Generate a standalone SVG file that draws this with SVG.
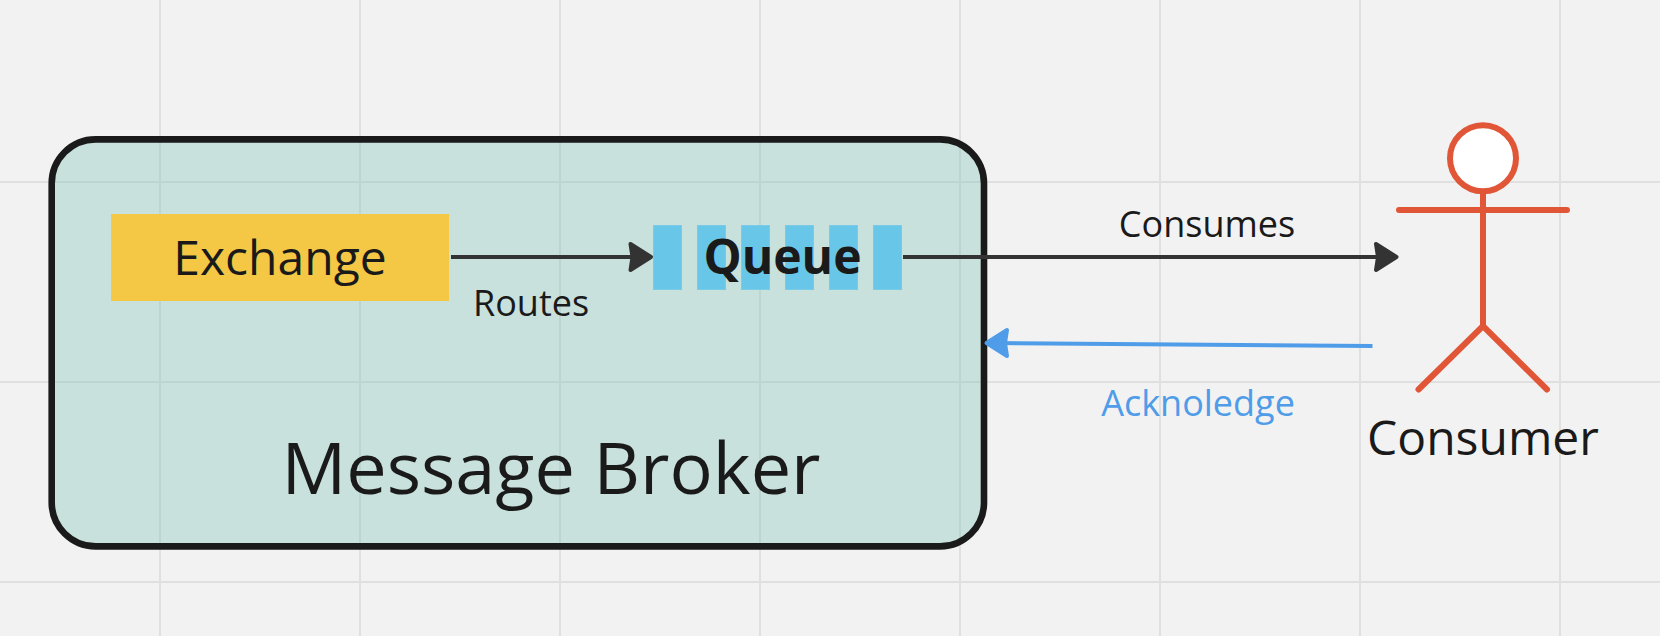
<svg xmlns="http://www.w3.org/2000/svg" width="1660" height="636" viewBox="0 0 1660 636">
<style>
.t{font-family:"Open Sans","Noto Sans","Liberation Sans",sans-serif;fill:#1a1a1a;text-anchor:middle}
.grid line{stroke:#e0e0e0;stroke-width:2}
.q rect{fill:#68c6e9;stroke:#7ccbe6;stroke-width:1}
.actor *{stroke:#e05637;stroke-width:6;stroke-linecap:round;fill:none}
.c line{stroke-width:4;fill:none}
</style>
<defs>
<path id="ah" d="M-23 -13L-2.5 0L-23 13L-21 0Z" stroke-width="4" stroke-linejoin="round"/>
</defs>
<rect width="1660" height="636" fill="#f2f2f2"/>
<g class="grid">
<line x1="160" y1="0" x2="160" y2="636"/><line x1="360" y1="0" x2="360" y2="636"/><line x1="560" y1="0" x2="560" y2="636"/><line x1="760" y1="0" x2="760" y2="636"/><line x1="960" y1="0" x2="960" y2="636"/><line x1="1160" y1="0" x2="1160" y2="636"/><line x1="1360" y1="0" x2="1360" y2="636"/><line x1="1560" y1="0" x2="1560" y2="636"/>
<line x1="0" y1="182" x2="1660" y2="182"/><line x1="0" y1="382" x2="1660" y2="382"/><line x1="0" y1="582" x2="1660" y2="582"/>
</g>
<g id="message-broker">
<rect x="51.7" y="139.4" width="932.3" height="407" rx="44" ry="44" fill="#76beb0" fill-opacity=".33" stroke="#1a1a1a" stroke-width="6.6"/>
<text class="t" x="551" y="493.5" font-size="72">Message Broker</text>
</g>
<g id="exchange">
<rect x="111" y="214" width="338" height="87" fill="#f4c745"/>
<text class="t" x="280" y="274.5" font-size="48">Exchange</text>
</g>
<g id="queue">
<g class="q">
<rect x="653.5" y="225.5" width="28" height="64"/><rect x="697.5" y="225.5" width="28" height="64"/><rect x="741.5" y="225.5" width="28" height="64"/><rect x="785.5" y="225.5" width="28" height="64"/><rect x="829.5" y="225.5" width="28" height="64"/><rect x="873.5" y="225.5" width="28" height="64"/>
</g>
<text class="t" x="782.5" y="274" font-size="48" font-weight="700">Queue</text>
</g>
<g id="consumer">
<g class="actor">
<ellipse cx="1483" cy="158.3" rx="33" ry="33" style="fill:#fff"/>
<path d="M1399 210H1567M1483 194V326M1418.5 389.5L1483 326L1547 389.5"/>
</g>
<text class="t" x="1483" y="455" font-size="48">Consumer</text>
</g>
<g id="connectors" class="c">
<line x1="451" y1="257" x2="640" y2="257" stroke="#333"/>
<use href="#ah" x="653.5" y="257" fill="#333" stroke="#333"/>
<text class="t" x="531" y="315.5" font-size="36">Routes</text>
<line x1="903" y1="257" x2="1385" y2="257" stroke="#333"/>
<use href="#ah" x="1399" y="257" fill="#333" stroke="#333"/>
<text class="t" x="1207" y="236.5" font-size="36">Consumes</text>
<line x1="1372.5" y1="346" x2="995" y2="343.1" stroke="#4f9ce9"/>
<use href="#ah" transform="translate(984 343) rotate(180)" fill="#4f9ce9" stroke="#4f9ce9"/>
<text class="t" x="1198" y="416" font-size="36" style="fill:#4f9ce9">Acknoledge</text>
</g>
</svg>
